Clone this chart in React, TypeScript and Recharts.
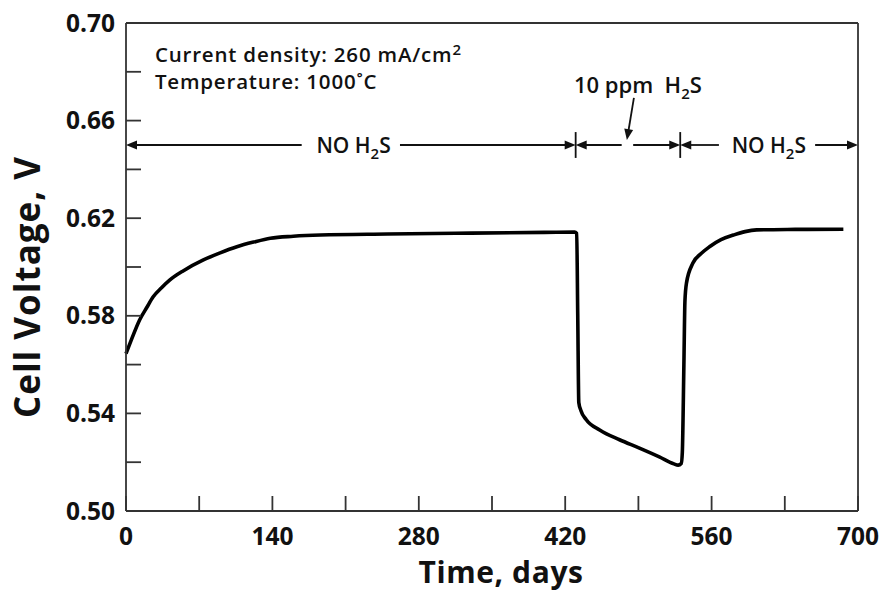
import React from 'react';
import {
  LineChart,
  Line,
  XAxis,
  YAxis,
  ReferenceLine,
  ReferenceDot,
  Label,
} from 'recharts';

// cell voltage trace
const days = [
  0, 5, 13, 20, 26, 34, 42, 55, 74, 90, 106, 122, 138, 160, 186, 250, 330, 400,
  429, 431, 432, 433, 435, 440, 453, 472, 491, 510, 524, 528, 531, 532, 533.5,
  534.5, 536, 542, 550, 558, 569, 581, 592, 603, 640, 686,
];
const voltage = [
  0.5645, 0.57, 0.5783, 0.5835, 0.5878, 0.5915, 0.5947, 0.5985, 0.6029, 0.6058,
  0.6083, 0.6102, 0.6118, 0.6126, 0.6131, 0.6135, 0.6139, 0.6142, 0.6143,
  0.6138, 0.58, 0.5445, 0.5412, 0.5375, 0.5332, 0.5292, 0.5258, 0.5222, 0.5193,
  0.5188, 0.5195, 0.524, 0.56, 0.586, 0.5935, 0.6015, 0.6055, 0.6083, 0.6112,
  0.6131, 0.6145, 0.6152, 0.6154, 0.6155,
];

const xTicks = [0, 70, 140, 210, 280, 350, 420, 490, 560, 630, 700];
const yTicks = [0.5, 0.52, 0.54, 0.56, 0.58, 0.6, 0.62, 0.64, 0.66, 0.68, 0.7];

// annotation layout in data units
const arrowLevel = 0.65;
const phaseBounds = [430, 530];

const data = days.map((d, i) => ({ day: d, v: voltage[i] }));

const FONT = '"Open Sans", "DejaVu Sans", sans-serif';
const INK = '#111';

const fmtX = (v: number) => (v % 140 === 0 ? String(v) : '');
const fmtY = (v: number) => (Math.round(v * 100) % 4 === 2 ? v.toFixed(2) : '');

const arrow = (head: 'start' | 'end') => (p: any) => {
  const { x1, y1, x2, y2 } = p;
  const tx = head === 'end' ? x2 : x1;
  const ty = head === 'end' ? y2 : y1;
  const fx = head === 'end' ? x1 : x2;
  const fy = head === 'end' ? y1 : y2;
  const len = Math.hypot(tx - fx, ty - fy) || 1;
  const ux = (tx - fx) / len;
  const uy = (ty - fy) / len;
  const L = 11;
  const W = 4.5;
  const bx = tx - ux * L;
  const by = ty - uy * L;
  const pts = `${tx},${ty} ${bx - uy * W},${by + ux * W} ${bx + uy * W},${by - ux * W}`;
  return (
    <g>
      <line x1={fx} y1={fy} x2={bx + ux * 2} y2={by + uy * 2} stroke={INK} strokeWidth={1.8} />
      <polygon points={pts} fill={INK} />
    </g>
  );
};

const bar = (p: any) => (
  <line x1={p.x1} y1={p.y1} x2={p.x2} y2={p.y2} stroke={INK} strokeWidth={1.8} />
);

const noH2S = (p: any) => (
  <text x={p.cx} y={p.cy + 8} textAnchor="middle" fontFamily={FONT} fontWeight={600} fontSize={21} fill={INK}>
    NO H<tspan fontSize={15} dy={6}>2</tspan>
    <tspan dy={-6}>S</tspan>
  </text>
);

const ppmLabel = (p: any) => (
  <text x={p.cx} y={p.cy} textAnchor="middle" fontFamily={FONT} fontWeight={600} fontSize={22} fill={INK}>
    10 ppm{'\u00a0\u00a0'}H<tspan fontSize={15} dy={6}>2</tspan>
    <tspan dy={-6}>S</tspan>
  </text>
);

const densityLabel = (p: any) => (
  <text x={p.cx} y={p.cy} fontFamily={FONT} fontWeight={600} fontSize={20.5} letterSpacing={0.8} fill={INK}>
    Current density: 260 mA/cm<tspan fontSize={15} dy={-7}>2</tspan>
  </text>
);

const tempLabel = (p: any) => (
  <text x={p.cx} y={p.cy} fontFamily={FONT} fontWeight={600} fontSize={20.5} letterSpacing={0.8} fill={INK}>
    Temperature: 1000˚C
  </text>
);

export default function App() {
  const tickStyle = { fill: INK, fontFamily: FONT, fontWeight: 700, fontSize: 24.5 };
  const lineStyle = { stroke: '#333', strokeWidth: 1.8 };
  return (
    <div style={{ position: 'absolute', left: 0, top: 0, background: '#fff' }}>
      <LineChart width={888} height={593} data={data} margin={{ top: 22, right: 0, bottom: 0, left: 0 }}>
        <XAxis
          dataKey="day"
          type="number"
          domain={[0, 700]}
          ticks={xTicks}
          interval={0}
          tickFormatter={fmtX}
          tickSize={-15}
          tickMargin={32}
          height={82}
          tick={tickStyle}
          axisLine={lineStyle}
          tickLine={lineStyle}
        >
          <Label
            content={() => (
              <text
                x={501}
                y={583}
                textAnchor="middle"
                fontFamily={FONT}
                fontWeight={700}
                fontSize={30}
                letterSpacing={0.6}
                fill={INK}
              >
                Time, days
              </text>
            )}
          />
        </XAxis>
        <XAxis
          xAxisId="top"
          orientation="top"
          type="number"
          domain={[0, 700]}
          ticks={xTicks}
          interval={0}
          tick={false}
          tickSize={-15}
          height={1}
          axisLine={lineStyle}
          tickLine={lineStyle}
        />
        <YAxis
          type="number"
          domain={[0.5, 0.7]}
          ticks={yTicks}
          interval={0}
          tickFormatter={fmtY}
          tickSize={-15}
          tickMargin={26}
          width={126}
          tick={tickStyle}
          axisLine={lineStyle}
          tickLine={lineStyle}
        >
          <Label
            content={() => (
              <text
                x={40}
                y={287}
                transform="rotate(-90 40 287)"
                textAnchor="middle"
                fontFamily={FONT}
                fontWeight={700}
                fontSize={35}
                letterSpacing={1}
                fill={INK}
              >
                Cell Voltage, V
              </text>
            )}
          />
        </YAxis>
        <YAxis
          yAxisId="right"
          orientation="right"
          type="number"
          domain={[0.5, 0.7]}
          ticks={yTicks}
          interval={0}
          tick={false}
          tickSize={-15}
          width={30}
          axisLine={lineStyle}
          tickLine={lineStyle}
        />

        <ReferenceLine segment={[{ x: 0, y: arrowLevel }, { x: 168, y: arrowLevel }]} shape={arrow('start')} />
        <ReferenceLine segment={[{ x: 262, y: arrowLevel }, { x: phaseBounds[0], y: arrowLevel }]} shape={arrow('end')} />
        <ReferenceLine segment={[{ x: phaseBounds[0], y: arrowLevel }, { x: 474, y: arrowLevel }]} shape={arrow('start')} />
        <ReferenceLine segment={[{ x: 485, y: arrowLevel }, { x: phaseBounds[1], y: arrowLevel }]} shape={arrow('end')} />
        <ReferenceLine segment={[{ x: phaseBounds[1], y: arrowLevel }, { x: 567, y: arrowLevel }]} shape={arrow('start')} />
        <ReferenceLine segment={[{ x: 659, y: arrowLevel }, { x: 700, y: arrowLevel }]} shape={arrow('end')} />
        <ReferenceLine segment={[{ x: 485.7, y: 0.6693 }, { x: 479, y: 0.652 }]} shape={arrow('end')} />
        {phaseBounds.map((b) => (
          <ReferenceLine key={b} segment={[{ x: b, y: 0.6447 }, { x: b, y: 0.6553 }]} shape={bar} />
        ))}
        <ReferenceDot x={217.6} y={arrowLevel} r={0} shape={noH2S} />
        <ReferenceDot x={614.7} y={arrowLevel} r={0} shape={noH2S} />
        <ReferenceDot x={489.5} y={0.6713} r={0} shape={ppmLabel} />
        <ReferenceDot x={27.7} y={0.6841} r={0} shape={densityLabel} />
        <ReferenceDot x={27.7} y={0.6728} r={0} shape={tempLabel} />

        <Line
          dataKey="v"
          type="monotone"
          stroke="#000"
          strokeWidth={3.6}
          dot={false}
          isAnimationActive={false}
        />
      </LineChart>
    </div>
  );
}
